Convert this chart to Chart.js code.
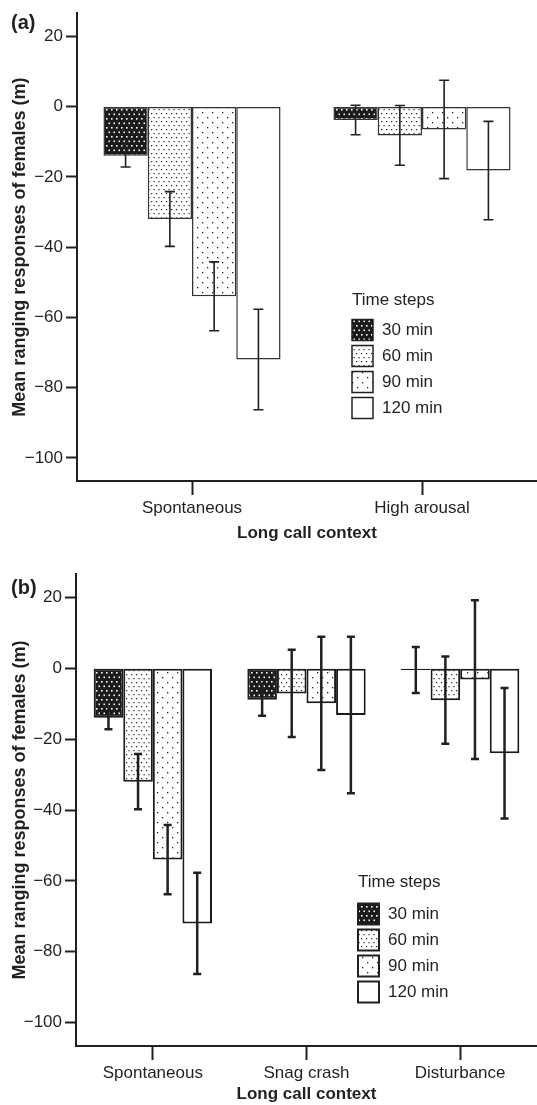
<!DOCTYPE html>
<html>
<head>
<meta charset="utf-8">
<script src="https://cdn.jsdelivr.net/npm/chart.js@4.4.1/dist/chart.umd.min.js"></script>
<style>
  html, body { margin: 0; padding: 0; background: #fff; }
  .panel { position: absolute; left: 0; }
</style>
</head>
<body>
<div class="panel" style="top:0"><canvas id="chartA" width="537" height="545"></canvas></div>
<div class="panel" style="top:545px"><canvas id="chartB" width="537" height="560"></canvas></div>
<script>
// ---- data ----
const timeSteps = ['30 min', '60 min', '90 min', '120 min'];
const yTicks = [-100, -80, -60, -40, -20, 0, 20];
const yMin = -106.6;
const yMax = 26.6;

// panel (a)
const contextsA = ['Spontaneous', 'High arousal'];
const a30 = [-14, -3.8];
const a60 = [-32, -8.2];
const a90 = [-54, -6.5];
const a120 = [-72, -18.2];
const a30err = [3.2, 4.2];
const a60err = [7.8, 8.5];
const a90err = [9.8, 14];
const a120err = [14.3, 14];

// panel (b)
const contextsB = ['Spontaneous', 'Snag crash', 'Disturbance'];
const b30 = [-14, -8.9, -0.5];
const b60 = [-32, -7.1, -9];
const b90 = [-54, -9.9, -3.2];
const b120 = [-72, -13.2, -24];
const b30err = [3.2, 4.5, 6.5];
const b60err = [7.8, 12.3, 12.3];
const b90err = [9.8, 18.8, 22.4];
const b120err = [14.3, 22.1, 18.4];

const ink = '#231f20';
Chart.defaults.font.family = '"Liberation Sans", Arial, sans-serif';
Chart.defaults.color = ink;

// dotted fills
function dots(bg, fg, w, h, pts, size) {
  const c = document.createElement('canvas');
  c.width = w; c.height = h;
  const g = c.getContext('2d');
  g.fillStyle = bg; g.fillRect(0, 0, w, h);
  g.fillStyle = fg;
  pts.forEach(p => g.fillRect(p[0], p[1], size, size));
  return g.createPattern(c, 'repeat');
}
const fills = [
  dots('#1c1a1b', '#ffffff', 5, 9, [[1, 1], [3.5, 5.5]], 1.6),
  dots('#ffffff', '#231f20', 5, 8, [[1, 1], [3.5, 5]], 1.2),
  dots('#ffffff', '#231f20', 10, 10, [[2, 2], [7, 7]], 1.3),
  '#ffffff'
];

// error bars drawn from the y scale
const errorBars = {
  id: 'errorBars',
  afterDatasetsDraw(chart, args, opts) {
    const ctx = chart.ctx;
    const y = chart.scales.y;
    chart.data.datasets.forEach((ds, i) => {
      chart.getDatasetMeta(i).data.forEach((bar, j) => {
        const v = ds.data[j], e = ds.errors[j];
        const top = y.getPixelForValue(v + e);
        const bot = y.getPixelForValue(v - e);
        ctx.save();
        ctx.strokeStyle = ink;
        ctx.lineWidth = opts.width;
        ctx.beginPath();
        ctx.moveTo(bar.x, top); ctx.lineTo(bar.x, bot);
        ctx.moveTo(bar.x - opts.cap, top); ctx.lineTo(bar.x + opts.cap, top);
        ctx.moveTo(bar.x - opts.cap, bot); ctx.lineTo(bar.x + opts.cap, bot);
        ctx.stroke();
        ctx.restore();
      });
    });
  }
};

// panel tag + legend box
const decor = {
  id: 'decor',
  afterDraw(chart, args, opts) {
    const ctx = chart.ctx;
    ctx.save();
    ctx.textBaseline = 'middle';
    ctx.fillStyle = ink;
    ctx.font = 'bold 20px "Liberation Sans", Arial, sans-serif';
    ctx.fillText(opts.tag, opts.tagX, opts.tagY);
    ctx.font = '17px "Liberation Sans", Arial, sans-serif';
    ctx.fillText('Time steps', opts.legX, opts.legY);
    chart.data.datasets.forEach((ds, i) => {
      const cy = opts.rowY + i * opts.rowGap;
      ctx.fillStyle = ds.backgroundColor;
      ctx.fillRect(opts.legX, cy - 10.5, 21, 21);
      ctx.strokeStyle = ink;
      ctx.lineWidth = opts.boxLine;
      ctx.strokeRect(opts.legX, cy - 10.5, 21, 21);
      ctx.fillStyle = ink;
      ctx.fillText(ds.label, opts.legX + 30, cy);
    });
    ctx.restore();
  }
};

function makeChart(id, labels, series, errs, cfg) {
  return new Chart(document.getElementById(id), {
    type: 'bar',
    data: {
      labels: labels,
      datasets: timeSteps.map((t, i) => ({
        label: t,
        data: series[i],
        errors: errs[i],
        backgroundColor: fills[i],
        borderColor: cfg.barLineColor,
        borderWidth: cfg.barLine,
        borderSkipped: false,
        barPercentage: 1,
        categoryPercentage: 0.77
      }))
    },
    options: {
      responsive: false,
      animation: false,
      layout: { padding: { top: cfg.top, left: 0, right: 0, bottom: 0 } },
      plugins: {
        legend: { display: false },
        tooltip: { enabled: false },
        errorBars: { width: cfg.errLine, cap: cfg.cap },
        decor: cfg.decor
      },
      scales: {
        x: {
          offset: true,
          grid: { drawOnChartArea: false, offset: false, tickLength: 14, tickWidth: 2, tickColor: ink },
          border: { display: true, color: ink, width: 2 },
          ticks: { font: { size: 17 }, color: ink, padding: 3, maxRotation: 0 },
          title: { display: true, text: 'Long call context', font: { size: 17, weight: 'bold' }, padding: { top: 0, bottom: cfg.xTitlePad } },
          afterFit(s) { s.height = cfg.xHeight; }
        },
        y: {
          min: yMin,
          max: yMax,
          afterBuildTicks(s) { s.ticks = yTicks.map(v => ({ value: v })); },
          grid: { drawOnChartArea: false, tickLength: 11, tickWidth: 2, tickColor: ink },
          border: { display: true, color: ink, width: 2 },
          ticks: { font: { size: 17 }, color: ink, padding: 3, callback: v => v < 0 ? '\u2212' + Math.abs(v) : String(v) },
          title: { display: true, text: 'Mean ranging responses of females (m)', font: { size: 18, weight: 'bold' }, padding: { top: 9, bottom: 0 } },
          afterFit(s) { s.width = cfg.yWidth; }
        }
      }
    },
    plugins: [errorBars, decor]
  });
}

makeChart('chartA', contextsA, [a30, a60, a90, a120], [a30err, a60err, a90err, a120err], {
  top: 10, xHeight: 64, yWidth: 77, xTitlePad: 1,
  barLine: 1.5, barLineColor: '#333', errLine: 1.6, cap: 5,
  decor: { tag: '(a)', tagX: 11, tagY: 23, legX: 352, legY: 300, rowY: 330, rowGap: 26, boxLine: 1.5 }
});

makeChart('chartB', contextsB, [b30, b60, b90, b120], [b30err, b60err, b90err, b120err], {
  top: 29, xHeight: 59, yWidth: 76, xTitlePad: 0,
  barLine: 2, barLineColor: '#1c1a1b', errLine: 2.5, cap: 4,
  decor: { tag: '(b)', tagX: 11, tagY: 43, legX: 358, legY: 337, rowY: 369, rowGap: 26, boxLine: 2 }
});
</script>
</body>
</html>
